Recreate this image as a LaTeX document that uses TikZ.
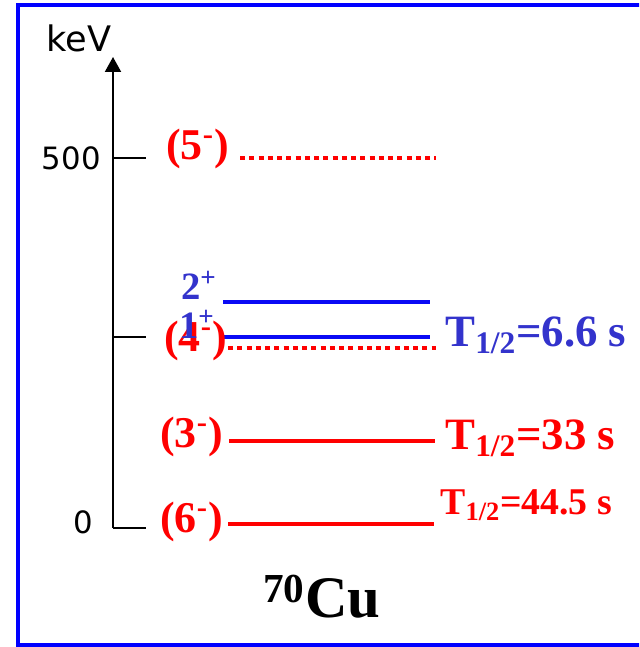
\documentclass[tikz,border=0pt]{standalone}
\usepackage{fontspec}
\setmainfont{Liberation Serif}
\newfontfamily\axisfont{DejaVu Sans}
\usetikzlibrary{arrows.meta}
\definecolor{frameblue}{HTML}{0000FF}
\definecolor{lvlred}{HTML}{FF0000}
\definecolor{lvlblue}{HTML}{0A0AF5}
\definecolor{txtblue}{HTML}{3333CC}

\begin{document}
\begin{tikzpicture}[
  axislbl/.style={font=\axisfont\fontsize{17.5}{17.5}\selectfont,inner sep=0pt},
  spinred/.style={text=lvlred,font=\bfseries\fontsize{25}{25}\selectfont,inner sep=0pt,anchor=base east},
  spinblue/.style={spinred,text=txtblue,font=\bfseries\fontsize{22}{22}\selectfont},
  solidlvl/.style={line width=0.09cm},
  dotlvl/.style={line width=0.08cm,dash pattern=on 0.1cm off 0.085cm},
  halflife/.style={font=\bfseries\fontsize{25.5}{25.5}\selectfont,inner sep=0pt,anchor=base west}]
  \useasboundingbox (0,0) rectangle (12.78,12.94);
  \clip (0,0) rectangle (12.78,12.94);
  % frame
  \draw[frameblue,line width=0.08cm] (0.36,0.03) rectangle (12.9,12.83);
  % energy axis
  \draw[line width=0.04cm,-{Triangle[length=0.3cm,width=0.32cm]}] (2.26,2.38) -- (2.26,11.8);
  \node[axislbl,font=\axisfont\fontsize{20}{20}\selectfont] (kev) at (1.58,12.18) {keV};
  % ticks and values
  \draw[line width=0.03cm] (2.26,9.78) -- (2.92,9.78);
  \draw[line width=0.03cm] (2.26,6.2) -- (2.92,6.2);
  \draw[line width=0.03cm] (2.26,2.38) -- (2.92,2.38);
  \node[axislbl,anchor=east] (e500) at (2.02,9.78) {500};
  \node[axislbl,anchor=east] (e0) at (1.86,2.5) {0};
  % (5-) dotted
  \draw[lvlred,dotlvl] (4.8,9.78) -- (8.72,9.78);
  \node[spinred] (s5) at (4.58,9.74) {(5\textsuperscript{-})};
  % 2+ and 1+ (blue)
  \draw[lvlblue,solidlvl] (4.46,6.9) -- (8.6,6.9);
  \node[spinblue] (s2) at (4.34,6.94) {2\textsuperscript{+}};
  \draw[lvlblue,solidlvl] (4.46,6.2) -- (8.6,6.2);
  % (4-) dotted
  \draw[lvlred,dotlvl] (4.56,5.98) -- (8.72,5.98);
  \node[spinred] (s4) at (4.54,5.9) {(4\textsuperscript{-})};
  \node[spinblue] (s1) at (4.3,6.16) {1\textsuperscript{+}};
  \node[halflife,text=txtblue] (t1) at (8.9,6.0) {T\textsubscript{1/2}=6.6 s};
  % (3-)
  \draw[lvlred,solidlvl] (4.58,4.12) -- (8.7,4.12);
  \node[spinred] (s3) at (4.46,3.98) {(3\textsuperscript{-})};
  \node[halflife,text=lvlred] (t3) at (8.9,3.94) {T\textsubscript{1/2}=33 s};
  % (6-) ground state
  \draw[lvlred,solidlvl] (4.56,2.46) -- (8.68,2.46);
  \node[spinred] (s6) at (4.46,2.28) {(6\textsuperscript{-})};
  \node[halflife,text=lvlred,font=\bfseries\fontsize{21.5}{21.5}\selectfont] (t6) at (8.8,2.64) {T\textsubscript{1/2}=44.5 s};
  % nucleus
  \node[font=\bfseries\fontsize{33.5}{33.5}\selectfont,inner sep=0pt,anchor=base] (cu) at (6.44,0.58) {\textsuperscript{70}Cu};
\end{tikzpicture}
\end{document}
